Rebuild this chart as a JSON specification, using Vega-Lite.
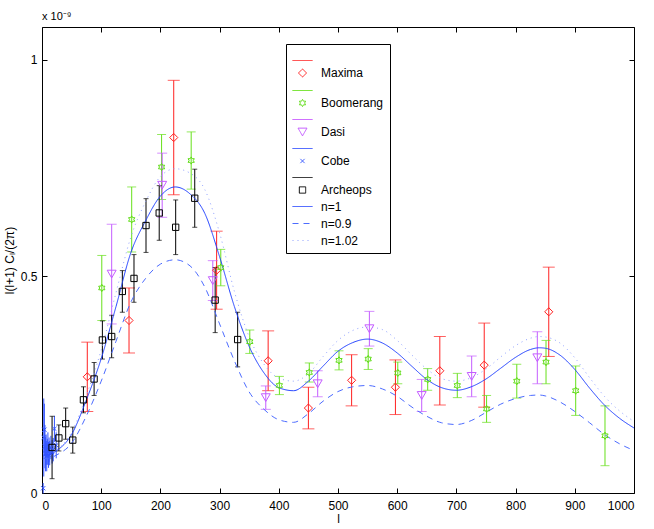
{
  "$schema": "https://vega.github.io/schema/vega-lite/v6.json",
  "description": "CMB power spectrum data with n=1, 0.9, 1.02 model curves.",
  "width": 592,
  "height": 466,
  "autosize": "none",
  "padding": {"left": 42, "top": 27, "right": 20, "bottom": 36},
  "title": {
    "text": "x 10⁻⁹",
    "anchor": "start",
    "frame": "group",
    "fontSize": 11,
    "fontWeight": "normal",
    "font": "Liberation Sans",
    "color": "black",
    "offset": 5
  },
  "datasets": {
    "obs": [
      {"exp": "Maxima", "l": 76.5, "v": 0.268, "e": 0.08},
      {"exp": "Maxima", "l": 147, "v": 0.398, "e": 0.075},
      {"exp": "Maxima", "l": 222.5, "v": 0.82, "e": 0.132},
      {"exp": "Maxima", "l": 295, "v": 0.514, "e": 0.09},
      {"exp": "Maxima", "l": 382, "v": 0.305, "e": 0.069},
      {"exp": "Maxima", "l": 450, "v": 0.196, "e": 0.048},
      {"exp": "Maxima", "l": 523, "v": 0.26, "e": 0.059},
      {"exp": "Maxima", "l": 597, "v": 0.244, "e": 0.063},
      {"exp": "Maxima", "l": 672, "v": 0.282, "e": 0.079},
      {"exp": "Maxima", "l": 747, "v": 0.295, "e": 0.097},
      {"exp": "Maxima", "l": 856, "v": 0.418, "e": 0.103},
      {"exp": "Boomerang", "l": 101, "v": 0.473, "e": 0.075},
      {"exp": "Boomerang", "l": 151.5, "v": 0.631, "e": 0.075},
      {"exp": "Boomerang", "l": 202, "v": 0.752, "e": 0.075},
      {"exp": "Boomerang", "l": 252, "v": 0.767, "e": 0.066},
      {"exp": "Boomerang", "l": 302, "v": 0.52, "e": 0.042},
      {"exp": "Boomerang", "l": 351, "v": 0.349, "e": 0.027},
      {"exp": "Boomerang", "l": 401, "v": 0.248, "e": 0.021},
      {"exp": "Boomerang", "l": 451.5, "v": 0.278, "e": 0.022},
      {"exp": "Boomerang", "l": 501.7, "v": 0.306, "e": 0.022},
      {"exp": "Boomerang", "l": 551, "v": 0.309, "e": 0.024},
      {"exp": "Boomerang", "l": 601, "v": 0.277, "e": 0.025},
      {"exp": "Boomerang", "l": 651.5, "v": 0.262, "e": 0.025},
      {"exp": "Boomerang", "l": 701.5, "v": 0.248, "e": 0.028},
      {"exp": "Boomerang", "l": 751, "v": 0.194, "e": 0.031},
      {"exp": "Boomerang", "l": 802, "v": 0.258, "e": 0.039},
      {"exp": "Boomerang", "l": 851.4, "v": 0.302, "e": 0.05},
      {"exp": "Boomerang", "l": 901.5, "v": 0.236, "e": 0.057},
      {"exp": "Boomerang", "l": 951, "v": 0.132, "e": 0.069},
      {"exp": "Dasi", "l": 117.7, "v": 0.505, "e": 0.115},
      {"exp": "Dasi", "l": 203, "v": 0.71, "e": 0.074},
      {"exp": "Dasi", "l": 288.5, "v": 0.49, "e": 0.046},
      {"exp": "Dasi", "l": 378, "v": 0.22, "e": 0.027},
      {"exp": "Dasi", "l": 465.7, "v": 0.252, "e": 0.03},
      {"exp": "Dasi", "l": 553, "v": 0.379, "e": 0.04},
      {"exp": "Dasi", "l": 641.4, "v": 0.225, "e": 0.037},
      {"exp": "Dasi", "l": 725.8, "v": 0.269, "e": 0.047},
      {"exp": "Dasi", "l": 836.7, "v": 0.312, "e": 0.06},
      {"exp": "Cobe", "l": 2, "v": 0.011, "e": 0.012},
      {"exp": "Cobe", "l": 3, "v": 0.128, "e": 0.09},
      {"exp": "Cobe", "l": 4, "v": 0.146, "e": 0.06},
      {"exp": "Cobe", "l": 5, "v": 0.107, "e": 0.05},
      {"exp": "Cobe", "l": 6, "v": 0.09, "e": 0.04},
      {"exp": "Cobe", "l": 7, "v": 0.1, "e": 0.035},
      {"exp": "Cobe", "l": 8, "v": 0.085, "e": 0.035},
      {"exp": "Cobe", "l": 9, "v": 0.095, "e": 0.03},
      {"exp": "Cobe", "l": 10, "v": 0.11, "e": 0.03},
      {"exp": "Cobe", "l": 11, "v": 0.088, "e": 0.03},
      {"exp": "Cobe", "l": 12, "v": 0.1, "e": 0.028},
      {"exp": "Cobe", "l": 13, "v": 0.092, "e": 0.028},
      {"exp": "Cobe", "l": 15, "v": 0.105, "e": 0.027},
      {"exp": "Cobe", "l": 17, "v": 0.095, "e": 0.027},
      {"exp": "Cobe", "l": 19, "v": 0.1, "e": 0.027},
      {"exp": "Cobe", "l": 21, "v": 0.148, "e": 0.03},
      {"exp": "Cobe", "l": 24, "v": 0.11, "e": 0.03},
      {"exp": "Archeops", "l": 17, "v": 0.105, "e": 0.072},
      {"exp": "Archeops", "l": 28.5, "v": 0.127, "e": 0.03},
      {"exp": "Archeops", "l": 40, "v": 0.16, "e": 0.036},
      {"exp": "Archeops", "l": 52, "v": 0.122, "e": 0.03},
      {"exp": "Archeops", "l": 70, "v": 0.215, "e": 0.03},
      {"exp": "Archeops", "l": 88, "v": 0.263, "e": 0.038},
      {"exp": "Archeops", "l": 102, "v": 0.353, "e": 0.044},
      {"exp": "Archeops", "l": 117.7, "v": 0.361, "e": 0.049},
      {"exp": "Archeops", "l": 135.7, "v": 0.465, "e": 0.048},
      {"exp": "Archeops", "l": 155.4, "v": 0.495, "e": 0.055},
      {"exp": "Archeops", "l": 175.7, "v": 0.617, "e": 0.062},
      {"exp": "Archeops", "l": 198, "v": 0.646, "e": 0.063},
      {"exp": "Archeops", "l": 225.8, "v": 0.613, "e": 0.063},
      {"exp": "Archeops", "l": 258, "v": 0.68, "e": 0.067},
      {"exp": "Archeops", "l": 292.5, "v": 0.445, "e": 0.075},
      {"exp": "Archeops", "l": 330.5, "v": 0.354, "e": 0.063}
    ],
    "model": [
      {"model": "n=1", "l": 2, "v": 0.088},
      {"model": "n=1", "l": 10, "v": 0.088},
      {"model": "n=1", "l": 25, "v": 0.098},
      {"model": "n=1", "l": 50, "v": 0.135},
      {"model": "n=1", "l": 75, "v": 0.215},
      {"model": "n=1", "l": 100, "v": 0.31},
      {"model": "n=1", "l": 125, "v": 0.43},
      {"model": "n=1", "l": 150, "v": 0.554},
      {"model": "n=1", "l": 175, "v": 0.628},
      {"model": "n=1", "l": 200, "v": 0.685},
      {"model": "n=1", "l": 225, "v": 0.706},
      {"model": "n=1", "l": 250, "v": 0.69},
      {"model": "n=1", "l": 275, "v": 0.645},
      {"model": "n=1", "l": 300, "v": 0.545},
      {"model": "n=1", "l": 325, "v": 0.43},
      {"model": "n=1", "l": 350, "v": 0.338},
      {"model": "n=1", "l": 375, "v": 0.277},
      {"model": "n=1", "l": 400, "v": 0.243},
      {"model": "n=1", "l": 425, "v": 0.236},
      {"model": "n=1", "l": 450, "v": 0.258},
      {"model": "n=1", "l": 475, "v": 0.293},
      {"model": "n=1", "l": 500, "v": 0.327},
      {"model": "n=1", "l": 525, "v": 0.347},
      {"model": "n=1", "l": 550, "v": 0.355},
      {"model": "n=1", "l": 575, "v": 0.346},
      {"model": "n=1", "l": 600, "v": 0.323},
      {"model": "n=1", "l": 625, "v": 0.292},
      {"model": "n=1", "l": 650, "v": 0.262},
      {"model": "n=1", "l": 675, "v": 0.243},
      {"model": "n=1", "l": 700, "v": 0.237},
      {"model": "n=1", "l": 725, "v": 0.245},
      {"model": "n=1", "l": 750, "v": 0.263},
      {"model": "n=1", "l": 775, "v": 0.288},
      {"model": "n=1", "l": 800, "v": 0.313},
      {"model": "n=1", "l": 825, "v": 0.331},
      {"model": "n=1", "l": 840, "v": 0.335},
      {"model": "n=1", "l": 850, "v": 0.334},
      {"model": "n=1", "l": 875, "v": 0.318},
      {"model": "n=1", "l": 900, "v": 0.285},
      {"model": "n=1", "l": 925, "v": 0.242},
      {"model": "n=1", "l": 950, "v": 0.203},
      {"model": "n=1", "l": 975, "v": 0.173},
      {"model": "n=1", "l": 1000, "v": 0.15},
      {"model": "n=0.9", "l": 2, "v": 0.08},
      {"model": "n=0.9", "l": 10, "v": 0.08},
      {"model": "n=0.9", "l": 25, "v": 0.088},
      {"model": "n=0.9", "l": 50, "v": 0.115},
      {"model": "n=0.9", "l": 75, "v": 0.178},
      {"model": "n=0.9", "l": 100, "v": 0.258},
      {"model": "n=0.9", "l": 125, "v": 0.35},
      {"model": "n=0.9", "l": 150, "v": 0.44},
      {"model": "n=0.9", "l": 175, "v": 0.495},
      {"model": "n=0.9", "l": 200, "v": 0.528},
      {"model": "n=0.9", "l": 225, "v": 0.538},
      {"model": "n=0.9", "l": 250, "v": 0.524},
      {"model": "n=0.9", "l": 275, "v": 0.475},
      {"model": "n=0.9", "l": 300, "v": 0.39},
      {"model": "n=0.9", "l": 325, "v": 0.305},
      {"model": "n=0.9", "l": 350, "v": 0.233},
      {"model": "n=0.9", "l": 375, "v": 0.193},
      {"model": "n=0.9", "l": 400, "v": 0.169},
      {"model": "n=0.9", "l": 425, "v": 0.163},
      {"model": "n=0.9", "l": 450, "v": 0.183},
      {"model": "n=0.9", "l": 475, "v": 0.212},
      {"model": "n=0.9", "l": 500, "v": 0.234},
      {"model": "n=0.9", "l": 525, "v": 0.245},
      {"model": "n=0.9", "l": 550, "v": 0.248},
      {"model": "n=0.9", "l": 575, "v": 0.24},
      {"model": "n=0.9", "l": 600, "v": 0.223},
      {"model": "n=0.9", "l": 625, "v": 0.198},
      {"model": "n=0.9", "l": 650, "v": 0.177},
      {"model": "n=0.9", "l": 675, "v": 0.162},
      {"model": "n=0.9", "l": 700, "v": 0.158},
      {"model": "n=0.9", "l": 725, "v": 0.167},
      {"model": "n=0.9", "l": 750, "v": 0.186},
      {"model": "n=0.9", "l": 775, "v": 0.205},
      {"model": "n=0.9", "l": 800, "v": 0.218},
      {"model": "n=0.9", "l": 825, "v": 0.225},
      {"model": "n=0.9", "l": 840, "v": 0.226},
      {"model": "n=0.9", "l": 850, "v": 0.224},
      {"model": "n=0.9", "l": 875, "v": 0.21},
      {"model": "n=0.9", "l": 900, "v": 0.188},
      {"model": "n=0.9", "l": 925, "v": 0.162},
      {"model": "n=0.9", "l": 950, "v": 0.135},
      {"model": "n=0.9", "l": 975, "v": 0.114},
      {"model": "n=0.9", "l": 1000, "v": 0.098},
      {"model": "n=1.02", "l": 2, "v": 0.09},
      {"model": "n=1.02", "l": 10, "v": 0.09},
      {"model": "n=1.02", "l": 25, "v": 0.1},
      {"model": "n=1.02", "l": 50, "v": 0.14},
      {"model": "n=1.02", "l": 75, "v": 0.225},
      {"model": "n=1.02", "l": 100, "v": 0.33},
      {"model": "n=1.02", "l": 125, "v": 0.462},
      {"model": "n=1.02", "l": 150, "v": 0.59},
      {"model": "n=1.02", "l": 175, "v": 0.672},
      {"model": "n=1.02", "l": 200, "v": 0.73},
      {"model": "n=1.02", "l": 225, "v": 0.748},
      {"model": "n=1.02", "l": 250, "v": 0.738},
      {"model": "n=1.02", "l": 275, "v": 0.7},
      {"model": "n=1.02", "l": 300, "v": 0.6},
      {"model": "n=1.02", "l": 325, "v": 0.465},
      {"model": "n=1.02", "l": 350, "v": 0.36},
      {"model": "n=1.02", "l": 375, "v": 0.297},
      {"model": "n=1.02", "l": 400, "v": 0.265},
      {"model": "n=1.02", "l": 425, "v": 0.258},
      {"model": "n=1.02", "l": 450, "v": 0.275},
      {"model": "n=1.02", "l": 475, "v": 0.315},
      {"model": "n=1.02", "l": 500, "v": 0.352},
      {"model": "n=1.02", "l": 525, "v": 0.375},
      {"model": "n=1.02", "l": 550, "v": 0.383},
      {"model": "n=1.02", "l": 575, "v": 0.377},
      {"model": "n=1.02", "l": 600, "v": 0.352},
      {"model": "n=1.02", "l": 625, "v": 0.318},
      {"model": "n=1.02", "l": 650, "v": 0.286},
      {"model": "n=1.02", "l": 675, "v": 0.264},
      {"model": "n=1.02", "l": 700, "v": 0.258},
      {"model": "n=1.02", "l": 725, "v": 0.266},
      {"model": "n=1.02", "l": 750, "v": 0.286},
      {"model": "n=1.02", "l": 775, "v": 0.314},
      {"model": "n=1.02", "l": 800, "v": 0.34},
      {"model": "n=1.02", "l": 825, "v": 0.357},
      {"model": "n=1.02", "l": 840, "v": 0.361},
      {"model": "n=1.02", "l": 850, "v": 0.36},
      {"model": "n=1.02", "l": 875, "v": 0.346},
      {"model": "n=1.02", "l": 900, "v": 0.312},
      {"model": "n=1.02", "l": 925, "v": 0.266},
      {"model": "n=1.02", "l": 950, "v": 0.223},
      {"model": "n=1.02", "l": 975, "v": 0.19},
      {"model": "n=1.02", "l": 1000, "v": 0.165}
    ]
  },
  "resolve": {"axis": {"x": "independent", "y": "independent"}},
  "layer": [
    {
      "data": {"name": "obs"},
      "transform": [{"filter": {"field": "exp", "equal": "Maxima"}}],
      "mark": {"type": "errorbar", "color": "#ff2020", "ticks": {"size": 12}, "rule": {"strokeWidth": 1}},
      "encoding": {
        "x": {"field": "l", "type": "quantitative", "scale": {"domain": [0, 1000], "nice": false}, "axis": null},
        "y": {"field": "v", "type": "quantitative", "scale": {"domain": [0, 1.075], "nice": false}, "axis": null},
        "yError": {"field": "e"}
      }
    },
    {
      "data": {"name": "obs"},
      "transform": [{"filter": {"field": "exp", "equal": "Boomerang"}}],
      "mark": {"type": "errorbar", "color": "#66e01a", "ticks": {"size": 9}, "rule": {"strokeWidth": 1}},
      "encoding": {
        "x": {"field": "l", "type": "quantitative", "axis": null},
        "y": {"field": "v", "type": "quantitative", "axis": null},
        "yError": {"field": "e"}
      }
    },
    {
      "data": {"name": "obs"},
      "transform": [{"filter": {"field": "exp", "equal": "Dasi"}}],
      "mark": {"type": "errorbar", "color": "#c45cff", "ticks": {"size": 10}, "rule": {"strokeWidth": 1}},
      "encoding": {
        "x": {"field": "l", "type": "quantitative", "axis": null},
        "y": {"field": "v", "type": "quantitative", "axis": null},
        "yError": {"field": "e"}
      }
    },
    {
      "data": {"name": "obs"},
      "transform": [{"filter": {"field": "exp", "equal": "Cobe"}}],
      "mark": {"type": "errorbar", "color": "#3355ff", "ticks": false, "rule": {"strokeWidth": 1}},
      "encoding": {
        "x": {"field": "l", "type": "quantitative", "axis": null},
        "y": {"field": "v", "type": "quantitative", "axis": null},
        "yError": {"field": "e"}
      }
    },
    {
      "data": {"name": "obs"},
      "transform": [{"filter": {"field": "exp", "equal": "Archeops"}}],
      "mark": {"type": "errorbar", "color": "#000000", "ticks": {"size": 5}, "rule": {"strokeWidth": 1}},
      "encoding": {
        "x": {"field": "l", "type": "quantitative", "axis": null},
        "y": {"field": "v", "type": "quantitative", "axis": null},
        "yError": {"field": "e"}
      }
    },
    {
      "data": {"name": "model"},
      "mark": {"type": "line", "interpolate": "monotone", "strokeWidth": 1},
      "encoding": {
        "x": {
          "field": "l", "type": "quantitative",
          "axis": {"orient": "bottom", "title": "l", "format": "d", "values": [0, 100, 200, 300, 400, 500, 600, 700, 800, 900, 1000]}
        },
        "y": {
          "field": "v", "type": "quantitative",
          "axis": {"orient": "left", "title": "l(l+1) Cₗ/(2π)", "values": [0, 0.5, 1], "format": "~g"}
        },
        "color": {
          "field": "model", "type": "nominal", "title": null,
          "legend": {"labelExpr": "indexof(datum.label, '-e') >= 0 ? '' : datum.label"},
          "scale": {
            "domain": ["Maxima-e", "Maxima", "Boomerang-e", "Boomerang", "Dasi-e", "Dasi", "Cobe-e", "Cobe", "Archeops-e", "Archeops", "n=1", "n=0.9", "n=1.02"],
            "range": ["#ff2020", "#ff2020", "#55dd00", "#5edc14", "#c040ff", "#c45cff", "#2040ff", "#3355ff", "#000000", "#000000", "#2040ff", "#4d6cff", "#8fa0ff"]
          }
        },
        "strokeDash": {
          "field": "model", "type": "nominal", "title": null,
          "legend": {"labelExpr": "indexof(datum.label, '-e') >= 0 ? '' : datum.label"},
          "scale": {
            "domain": ["Maxima-e", "Maxima", "Boomerang-e", "Boomerang", "Dasi-e", "Dasi", "Cobe-e", "Cobe", "Archeops-e", "Archeops", "n=1", "n=0.9", "n=1.02"],
            "range": [[1, 0], [1, 0], [1, 0], [1, 0], [1, 0], [1, 0], [1, 0], [1, 0], [1, 0], [1, 0], [1, 0], [6, 5], [1, 4]]
          }
        }
      }
    },
    {
      "data": {"name": "obs"},
      "mark": {"type": "point", "filled": false, "strokeWidth": 1, "opacity": 1},
      "encoding": {
        "x": {
          "field": "l", "type": "quantitative",
          "axis": {"orient": "top", "labels": false, "title": null, "values": [0, 100, 200, 300, 400, 500, 600, 700, 800, 900, 1000]}
        },
        "y": {
          "field": "v", "type": "quantitative",
          "axis": {"orient": "right", "labels": false, "title": null, "values": [0, 0.5, 1]}
        },
        "color": {
          "field": "exp", "type": "nominal", "title": null,
          "legend": {"labelExpr": "indexof(datum.label, '-e') >= 0 ? '' : datum.label"},
          "scale": {
            "domain": ["Maxima-e", "Maxima", "Boomerang-e", "Boomerang", "Dasi-e", "Dasi", "Cobe-e", "Cobe", "Archeops-e", "Archeops", "n=1", "n=0.9", "n=1.02"],
            "range": ["#ff2020", "#ff2020", "#55dd00", "#5edc14", "#c040ff", "#c45cff", "#2040ff", "#3355ff", "#000000", "#000000", "#2040ff", "#4d6cff", "#8fa0ff"]
          }
        },
        "shape": {
          "field": "exp", "type": "nominal", "title": null,
          "legend": {"labelExpr": "indexof(datum.label, '-e') >= 0 ? '' : datum.label"},
          "scale": {
            "domain": ["Maxima-e", "Maxima", "Boomerang-e", "Boomerang", "Dasi-e", "Dasi", "Cobe-e", "Cobe", "Archeops-e", "Archeops", "n=1", "n=0.9", "n=1.02"],
            "range": ["stroke", "diamond", "stroke", "M0,-1L0.289,-0.5L0.866,-0.5L0.577,0L0.866,0.5L0.289,0.5L0,1L-0.289,0.5L-0.866,0.5L-0.577,0L-0.866,-0.5L-0.289,-0.5Z", "stroke", "triangle-down", "stroke", "M-1,-1L1,1M-1,1L1,-1", "stroke", "square", "stroke", "stroke", "stroke"]
          }
        },
        "size": {
          "field": "exp", "type": "nominal", "title": null,
          "legend": {"labelExpr": "indexof(datum.label, '-e') >= 0 ? '' : datum.label"},
          "scale": {
            "type": "ordinal",
            "domain": ["Maxima-e", "Maxima", "Boomerang-e", "Boomerang", "Dasi-e", "Dasi", "Cobe-e", "Cobe", "Archeops-e", "Archeops", "n=1", "n=0.9", "n=1.02"],
            "range": [400, 66, 400, 52, 400, 80, 400, 18, 400, 40, 400, 400, 400]
          }
        }
      }
    }
  ],
  "config": {
    "font": "Liberation Sans",
    "view": {"stroke": null},
    "axis": {
      "grid": false,
      "domainColor": "#000000",
      "tickColor": "#000000",
      "tickSize": -5,
      "labelFont": "Liberation Sans",
      "labelFontSize": 12,
      "labelColor": "#000000",
      "titleFont": "Liberation Sans",
      "titleFontSize": 12,
      "titleFontWeight": "normal",
      "titleColor": "#000000"
    },
    "axisBottom": {"labelPadding": 12, "titlePadding": 2},
    "axisLeft": {"labelPadding": 10, "titlePadding": 4},
    "legend": {
      "orient": "none",
      "legendX": 244,
      "legendY": 17,
      "strokeColor": "#000000",
      "fillColor": "#ffffff",
      "padding": 6,
      "rowPadding": -5,
      "labelFont": "Liberation Sans",
      "labelFontSize": 12,
      "labelColor": "#000000",
      "labelOffset": 8,
      "symbolStrokeWidth": 1,
      "symbolFillColor": "transparent"
    }
  }
}
